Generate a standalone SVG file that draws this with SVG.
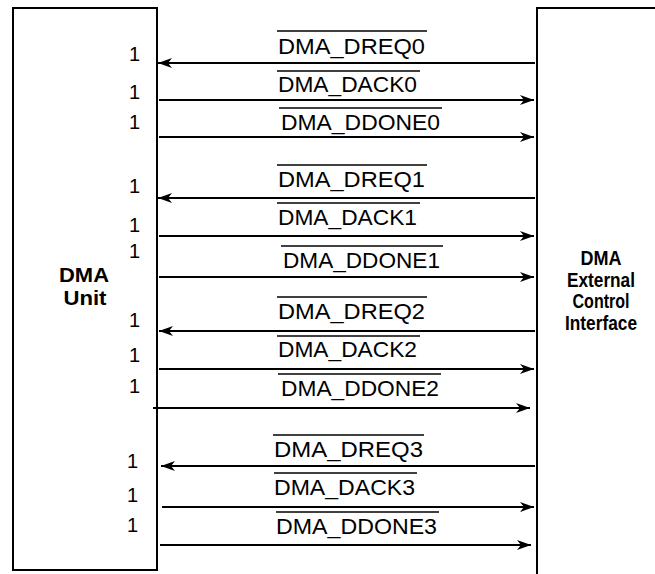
<svg xmlns="http://www.w3.org/2000/svg" width="655" height="574" viewBox="0 0 655 574">
<style>
.box{fill:none;stroke:#000;stroke-width:2}
.ln{stroke:#000;stroke-width:2;fill:none}
.ov{stroke:#000;stroke-width:1.6}
.sig{font-family:"Liberation Sans",Arial,sans-serif;font-size:22px;fill:#000}
.one{font-family:"Liberation Sans",Arial,sans-serif;font-size:20px;fill:#000;text-anchor:end}
.title{font-family:"Liberation Sans",Arial,sans-serif;font-weight:bold;fill:#000;text-anchor:middle}
</style>
<defs>
<marker id="ah" viewBox="0 0 14 10" refX="14" refY="5" markerWidth="14" markerHeight="10" markerUnits="userSpaceOnUse" orient="auto">
<path d="M0,0 L14,5 L0,10 L4,5 Z" fill="#000"/>
</marker>
</defs>
<rect width="655" height="574" fill="#fff"/>
<g id="dma-unit">
<rect class="box" x="13" y="8" width="144" height="562"/>
<text class="title" font-size="20" x="84" y="282" textLength="50" lengthAdjust="spacingAndGlyphs">DMA</text>
<text class="title" font-size="20" x="85" y="305" textLength="43" lengthAdjust="spacingAndGlyphs">Unit</text>
<text class="one" x="140" y="61">1</text>
<text class="one" x="140" y="99">1</text>
<text class="one" x="140" y="129">1</text>
<text class="one" x="140" y="193">1</text>
<text class="one" x="140" y="232">1</text>
<text class="one" x="140" y="258">1</text>
<text class="one" x="140" y="327">1</text>
<text class="one" x="140" y="362">1</text>
<text class="one" x="140" y="393">1</text>
<text class="one" x="138" y="468">1</text>
<text class="one" x="138" y="502">1</text>
<text class="one" x="138" y="532">1</text>
</g>
<g id="dma-ext">
<path class="box" d="M537,574 L537,8 L656,8"/>
<text class="title" font-size="20" x="601" y="265" textLength="41" lengthAdjust="spacingAndGlyphs">DMA</text>
<text class="title" font-size="20" x="601" y="287" textLength="68" lengthAdjust="spacingAndGlyphs">External</text>
<text class="title" font-size="20" x="601" y="308" textLength="57" lengthAdjust="spacingAndGlyphs">Control</text>
<text class="title" font-size="20" x="601" y="330" textLength="72" lengthAdjust="spacingAndGlyphs">Interface</text>
</g>
<g id="connectors">
<line class="ln" x1="535" y1="63" x2="158" y2="63" marker-end="url(#ah)"/>
<line class="ln" x1="159" y1="100" x2="534" y2="100" marker-end="url(#ah)"/>
<line class="ln" x1="159" y1="137" x2="534" y2="137" marker-end="url(#ah)"/>
<line class="ln" x1="535" y1="198" x2="158" y2="198" marker-end="url(#ah)"/>
<line class="ln" x1="159" y1="236" x2="534" y2="236" marker-end="url(#ah)"/>
<line class="ln" x1="159" y1="277" x2="534" y2="277" marker-end="url(#ah)"/>
<line class="ln" x1="535" y1="331" x2="159" y2="331" marker-end="url(#ah)"/>
<line class="ln" x1="159" y1="369" x2="534" y2="369" marker-end="url(#ah)"/>
<line class="ln" x1="153" y1="408" x2="530" y2="408" marker-end="url(#ah)"/>
<line class="ln" x1="535" y1="466" x2="161" y2="466" marker-end="url(#ah)"/>
<line class="ln" x1="162" y1="507" x2="534" y2="507" marker-end="url(#ah)"/>
<line class="ln" x1="160" y1="545" x2="531" y2="545" marker-end="url(#ah)"/>
<text class="sig" x="278" y="54" textLength="147" lengthAdjust="spacingAndGlyphs">DMA_DREQ0</text>
<line class="ov" x1="277" y1="31" x2="427" y2="31"/>
<text class="sig" x="278" y="92" textLength="139" lengthAdjust="spacingAndGlyphs">DMA_DACK0</text>
<line class="ov" x1="277" y1="71" x2="420" y2="71"/>
<text class="sig" x="281" y="130" textLength="159" lengthAdjust="spacingAndGlyphs">DMA_DDONE0</text>
<line class="ov" x1="279" y1="108" x2="442" y2="108"/>
<text class="sig" x="278" y="187" textLength="147" lengthAdjust="spacingAndGlyphs">DMA_DREQ1</text>
<line class="ov" x1="277" y1="165" x2="427" y2="165"/>
<text class="sig" x="278" y="225" textLength="139" lengthAdjust="spacingAndGlyphs">DMA_DACK1</text>
<line class="ov" x1="277" y1="203" x2="420" y2="203"/>
<text class="sig" x="283" y="268" textLength="157" lengthAdjust="spacingAndGlyphs">DMA_DDONE1</text>
<line class="ov" x1="281" y1="246" x2="443" y2="246"/>
<text class="sig" x="278" y="319" textLength="147" lengthAdjust="spacingAndGlyphs">DMA_DREQ2</text>
<line class="ov" x1="277" y1="297" x2="427" y2="297"/>
<text class="sig" x="278" y="357" textLength="139" lengthAdjust="spacingAndGlyphs">DMA_DACK2</text>
<line class="ov" x1="277" y1="336" x2="420" y2="336"/>
<text class="sig" x="281" y="396" textLength="158" lengthAdjust="spacingAndGlyphs">DMA_DDONE2</text>
<line class="ov" x1="278" y1="374" x2="441" y2="374"/>
<text class="sig" x="274" y="457" textLength="149" lengthAdjust="spacingAndGlyphs">DMA_DREQ3</text>
<line class="ov" x1="273" y1="435" x2="424" y2="435"/>
<text class="sig" x="274" y="495" textLength="141" lengthAdjust="spacingAndGlyphs">DMA_DACK3</text>
<line class="ov" x1="274" y1="473" x2="417" y2="473"/>
<text class="sig" x="276" y="534" textLength="161" lengthAdjust="spacingAndGlyphs">DMA_DDONE3</text>
<line class="ov" x1="276" y1="512" x2="439" y2="512"/>
</g>
</svg>
